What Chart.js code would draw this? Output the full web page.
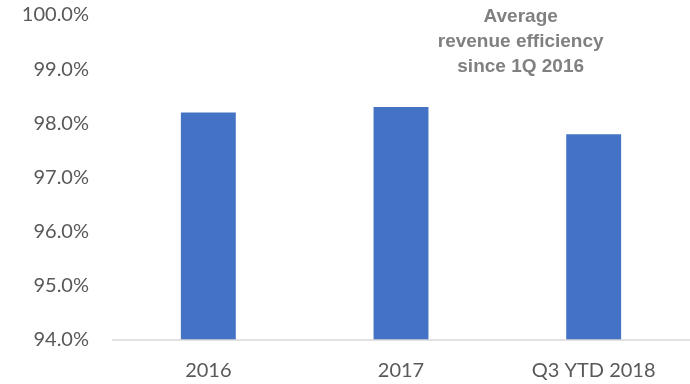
<!DOCTYPE html>
<html>
<head>
<meta charset="utf-8">
<style>
  html, body { margin: 0; padding: 0; background: #ffffff; }
  #wrap { width: 690px; height: 384px; }
</style>
<script src="https://cdn.jsdelivr.net/npm/chart.js@4/dist/chart.umd.min.js"></script>
</head>
<body>
<div id="wrap"><canvas id="c" width="690" height="384"></canvas></div>
<script>
// Revenue efficiency by period (percent)
const categories = ['2016', '2017', 'Q3 YTD 2018'];
const efficiency = [98.2, 98.3, 97.8];
const yTicks = [94, 95, 96, 97, 98, 99, 100];
const noteLines = ['Average', 'revenue efficiency', 'since 1Q 2016'];

const labelFont = "Lato, 'Open Sans', sans-serif";

// Light baseline under the bars
const baseline = {
  id: 'baseline',
  afterDatasetsDraw(chart) {
    const { ctx, chartArea, scales } = chart;
    const y = scales.y.getPixelForValue(yTicks[0]);
    ctx.save();
    ctx.strokeStyle = '#d9d9d9';
    ctx.lineWidth = 1.5;
    ctx.beginPath();
    ctx.moveTo(chartArea.left, y);
    ctx.lineTo(chartArea.right, y);
    ctx.stroke();
    ctx.restore();
  }
};

// Grey caption in the upper right
const note = {
  id: 'note',
  afterDraw(chart) {
    const { ctx, scales } = chart;
    const x = scales.x.getPixelForValue(2) - 73;
    ctx.save();
    ctx.fillStyle = '#808080';
    ctx.font = "bold 19px 'Liberation Sans Narrow', 'Liberation Sans', sans-serif";
    ctx.textAlign = 'center';
    ctx.textBaseline = 'middle';
    noteLines.forEach((t, i) => ctx.fillText(t, x, 17 + i * 25));
    ctx.restore();
  }
};

new Chart(document.getElementById('c'), {
  type: 'bar',
  data: {
    labels: categories,
    datasets: [{
      data: efficiency,
      backgroundColor: '#4472c4',
      borderWidth: 0,
      categoryPercentage: 1,
      barPercentage: 0.285
    }]
  },
  options: {
    responsive: false,
    animation: false,
    layout: { padding: { top: 15, right: 0, left: 0, bottom: 0 } },
    plugins: { legend: { display: false }, tooltip: { enabled: false } },
    scales: {
      x: {
        grid: { display: false, drawTicks: false },
        border: { display: false },
        ticks: { color: '#595959', font: { family: labelFont, size: 20 }, padding: 19, maxRotation: 0 },
        afterFit(s) { s.height = 44; s.paddingLeft = 0; s.paddingRight = 0; }
      },
      y: {
        min: yTicks[0],
        max: yTicks[yTicks.length - 1],
        afterBuildTicks(s) { s.ticks = yTicks.map(v => ({ value: v })); },
        grid: { display: false, drawTicks: false },
        border: { display: false },
        ticks: {
          color: '#595959',
          font: { family: labelFont, size: 20 },
          padding: 23,
          callback: v => v.toFixed(1) + '%'
        },
        afterFit(s) { s.width = 112; s.paddingTop = 0; s.paddingBottom = 0; }
      }
    }
  },
  plugins: [baseline, note]
});
</script>
</body>
</html>
